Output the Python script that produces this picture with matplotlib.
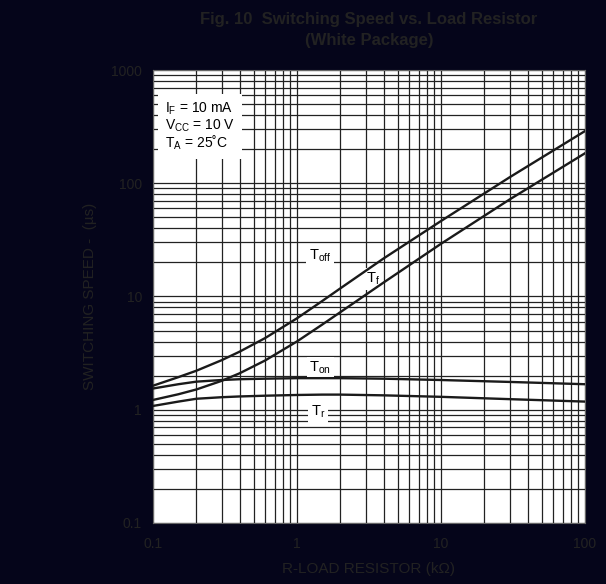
import matplotlib.pyplot as plt
import numpy as np

plt.rcParams['font.family'] = ['Liberation Sans', 'DejaVu Sans']
plt.rcParams['mathtext.fontset'] = 'custom'
plt.rcParams['mathtext.rm'] = 'Liberation Sans'

# load resistance (kOhm)
r_load = [0.1, 0.15, 0.2, 0.3, 0.4, 0.6, 1, 1.5, 2, 4, 10, 30, 100]

# switching times (us)
t_off = [1.63, 1.94, 2.21, 2.74, 3.26, 4.29, 6.42, 9.14, 11.8, 21.7, 46.4, 113, 289]
t_f = [1.22, 1.37, 1.51, 1.80, 2.10, 2.72, 4.01, 5.66, 7.27, 13.3, 29.2, 72, 184]
t_on = [1.54, 1.68, 1.77, 1.83, 1.86, 1.88, 1.90, 1.90, 1.90, 1.88, 1.83, 1.76, 1.68]
t_r = [1.08, 1.18, 1.25, 1.29, 1.31, 1.33, 1.35, 1.36, 1.36, 1.34, 1.30, 1.24, 1.18]

# curve label positions (x, y)
labels = [(r'T$_\mathregular{off}$', 1.45, 23),
          (r'T$_\mathregular{f}$', 3.35, 14.3),
          (r'T$_\mathregular{on}$', 1.45, 2.34),
          (r'T$_\mathregular{r}$', 1.4, 0.96)]

bg = '#05051a'
txt = '#222222'

fig = plt.figure(figsize=(6.06, 5.84), dpi=100, facecolor=bg)
ax = fig.add_axes([0.2525, 0.1045, 0.7128, 0.7756])
ax.set_facecolor('white')

ax.set_xscale('log')
ax.set_yscale('log')
ax.set_xlim(0.1, 100)
ax.set_ylim(0.1, 1000)

ax.grid(True, which='both', color='#222222', linewidth=0.9)
ax.set_axisbelow(True)

for ys in (t_off, t_f, t_on, t_r):
    ax.plot(r_load, ys, color='#1a1a1a', linewidth=1.7, zorder=3)

for s, x, y in labels:
    ax.text(x, y, s, fontsize=10.5, color='black', ha='center', va='center', zorder=2.5,
            bbox=dict(facecolor='white', edgecolor='none', pad=2))

ax.text(0.028, 0.875,
        'I$_\\mathregular{F}$ = 10 mA\nV$_\\mathregular{CC}$ = 10 V\nT$_\\mathregular{A}$ = 25˚C',
        transform=ax.transAxes, fontsize=10, color='black', ha='left', va='center',
        linespacing=1.0, zorder=4,
        bbox=dict(facecolor='white', edgecolor='none', pad=5))

ax.set_xticks([0.1, 1, 10, 100])
ax.set_xticklabels(['0.1', '1', '10', '100'])
ax.set_yticks([0.1, 1, 10, 100, 1000])
ax.set_yticklabels(['0.1', '1', '10', '100', '1000'])
ax.tick_params(which='both', length=0, colors=txt, labelsize=10, pad=8)
ax.tick_params(axis='x', pad=10)
for sp in ax.spines.values():
    sp.set_color('#666666')

ax.set_xlabel('R-LOAD RESISTOR (kΩ)', color=txt, fontsize=11, labelpad=8)
ax.set_ylabel('SWITCHING SPEED -  (µs)', color=txt, fontsize=11, labelpad=10)

fig.text(0.609, 0.967, 'Fig. 10  Switching Speed vs. Load Resistor', color=txt,
         fontsize=12, fontweight='bold', ha='center', va='center')
fig.text(0.609, 0.930, '(White Package)', color=txt,
         fontsize=12, fontweight='bold', ha='center', va='center')

fig.savefig('out.png', dpi=100, facecolor=bg)
